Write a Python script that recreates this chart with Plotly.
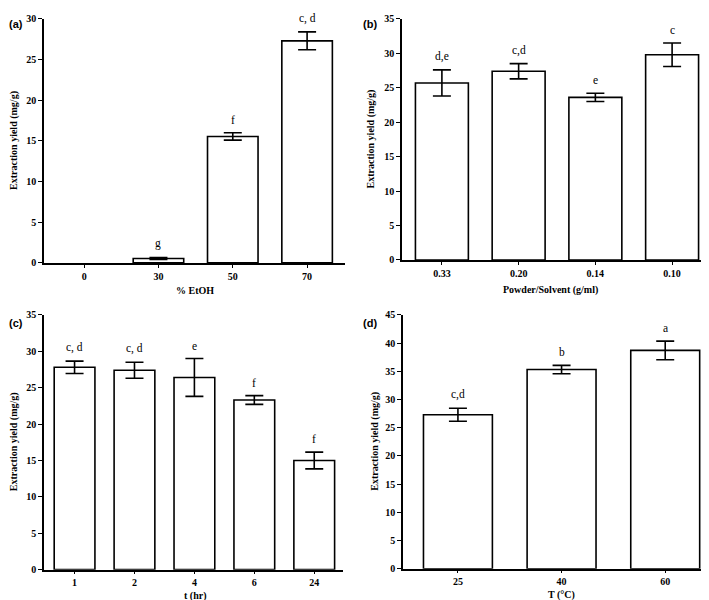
import plotly.graph_objects as go

W, H = 709, 600

# Panel (a)
a_cats = ["0", "30", "50", "70"]
a_vals = [0.0, 0.55, 15.55, 27.3]
a_errs = [0.0, 0.12, 0.45, 1.1]
a_letters = ["", "g", "f", "c, d"]

# Panel (b)
b_cats = ["0.33", "0.20", "0.14", "0.10"]
b_vals = [25.7, 27.4, 23.6, 29.8]
b_errs = [1.9, 1.1, 0.6, 1.7]
b_letters = ["d,e", "c,d", "e", "c"]

# Panel (c)
c_cats = ["1", "2", "4", "6", "24"]
c_vals = [27.8, 27.4, 26.4, 23.3, 15.0]
c_errs = [0.85, 1.1, 2.6, 0.6, 1.15]
c_letters = ["c, d", "c, d", "e", "f", "f"]

# Panel (d)
d_cats = ["25", "40", "60"]
d_vals = [27.3, 35.3, 38.7]
d_errs = [1.15, 0.75, 1.65]
d_letters = ["c,d", "b", "a"]

SERIF = "Liberation Serif"

# panel geometry in pixels: (x0, x1, ytop, ybottom)
panels = [
    dict(cats=a_cats, vals=a_vals, errs=a_errs, letters=a_letters, box=(36, 337, 5, 254),
         yr=30, dtick=5, xr=(-0.54, 3.51), width=0.68, xtitle="% EtOH", xt=(187, 282),
         ytx=6, label="(a)", lab=(8, 10)),
    dict(cats=b_cats, vals=b_vals, errs=b_errs, letters=b_letters, box=(394, 704, 5, 251),
         yr=35, dtick=5, xr=(-0.52, 3.52), width=0.69, xtitle="Powder/Solvent (g/ml)", xt=(542, 282),
         ytx=363, label="(b)", lab=(362, 10)),
    dict(cats=c_cats, vals=c_vals, errs=c_errs, letters=c_letters, box=(36, 335, 307, 567),
         yr=35, dtick=5, xr=(-0.51, 4.48), width=0.68, xtitle="t (hr)", xt=(188, 594),
         ytx=6, label="(c)", lab=(8, 315)),
    dict(cats=d_cats, vals=d_vals, errs=d_errs, letters=d_letters, box=(395, 708, 307, 566),
         yr=45, dtick=5, xr=(-0.53, 2.49), width=0.665, xtitle="T (°C)", xt=(553, 593),
         ytx=367, label="(d)", lab=(362, 315)),
]

fig = go.Figure()
annotations = []
layout = {}
for i, p in enumerate(panels):
    n = "" if i == 0 else str(i + 1)
    x0, x1, yt, yb = p["box"]
    # bars with zero height get no visible outline or error cap
    nz = [v > 0 for v in p["vals"]]
    line_c = ["black" if k else "rgba(0,0,0,0)" for k in nz]
    xs = [c for c, k in zip(p["cats"], nz) if k]
    fig.add_trace(go.Bar(
        x=p["cats"], y=p["vals"], width=p["width"],
        marker=dict(color="white", line=dict(color=line_c, width=1.6)),
        xaxis="x" + n, yaxis="y" + n, showlegend=False, hoverinfo="skip",
    ))
    fig.add_trace(go.Scatter(
        x=xs, y=[v for v, k in zip(p["vals"], nz) if k], mode="markers",
        marker=dict(size=1, color="rgba(0,0,0,0)"),
        error_y=dict(type="data", array=[e for e, k in zip(p["errs"], nz) if k],
                     color="black", thickness=1.6, width=9, visible=True),
        xaxis="x" + n, yaxis="y" + n, showlegend=False, hoverinfo="skip",
    ))
    layout["xaxis" + n] = dict(
        domain=[x0 / W, x1 / W], anchor="y" + n, type="category",
        categoryorder="array", categoryarray=p["cats"],
        range=list(p["xr"]), showline=True, linecolor="black", linewidth=1.6,
        ticks="outside", ticklen=3, tickwidth=1.2, tickcolor="black",
        showgrid=False, zeroline=False,
        tickfont=dict(family=SERIF, size=10, color="black", weight="bold"),
    )
    layout["yaxis" + n] = dict(
        domain=[1 - yb / H, 1 - yt / H], anchor="x" + n,
        range=[0, p["yr"]], dtick=p["dtick"], showline=True, linecolor="black", linewidth=1.6,
        ticks="outside", ticklen=4, tickwidth=1.2, tickcolor="black",
        showgrid=False, zeroline=False,
        tickfont=dict(family=SERIF, size=10, color="black", weight="bold"),
    )
    for idx, (v, e, t) in enumerate(zip(p["vals"], p["errs"], p["letters"])):
        if t:
            annotations.append(dict(
                x=idx, y=v + e, xref="x" + n, yref="y" + n, text=t, showarrow=False,
                yanchor="bottom", yshift=5,
                font=dict(family=SERIF, size=11.5, color="black"),
            ))
    annotations.append(dict(
        x=p["xt"][0] / W, y=1 - p["xt"][1] / H, xref="paper", yref="paper",
        text="<b>" + p["xtitle"] + "</b>", showarrow=False,
        font=dict(family=SERIF, size=10, color="black"), xanchor="center", yanchor="middle",
    ))
    annotations.append(dict(
        x=p["ytx"] / W, y=1 - (yt + yb) / 2 / H, xref="paper", yref="paper",
        text="<b>Extraction yield (mg/g)</b>", showarrow=False, textangle=-90,
        font=dict(family=SERIF, size=10, color="black"), xanchor="center", yanchor="middle",
    ))
    annotations.append(dict(
        x=p["lab"][0] / W, y=1 - p["lab"][1] / H, xref="paper", yref="paper",
        text="<b>" + p["label"] + "</b>", showarrow=False,
        font=dict(family="Liberation Sans", size=11, color="black"), xanchor="center", yanchor="middle",
    ))

fig.update_layout(
    width=W, height=H, margin=dict(l=0, r=0, t=0, b=0),
    paper_bgcolor="white", plot_bgcolor="white",
    annotations=annotations, **layout,
)
fig.write_html("out.html")
